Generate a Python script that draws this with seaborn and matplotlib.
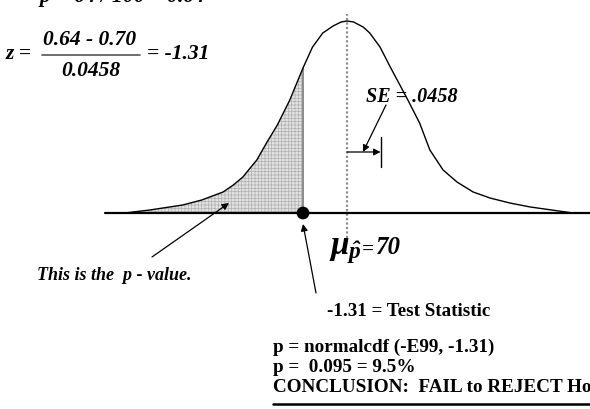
import matplotlib
matplotlib.use("Agg")
import matplotlib.pyplot as plt
import seaborn as sns
import pandas as pd

# Sample proportion test: H0 p = 0.70, sample 64 of 100
p_hat = 0.64
p0 = 0.70
se = 0.0458
z_stat = -1.31
p_value = 0.095

# Sketched sampling-distribution curve (p-hat, height above the axis)
curve_phat = [0.397, 0.431, 0.476, 0.502, 0.531, 0.545, 0.558, 0.568, 0.577,
              0.591, 0.605, 0.622, 0.640, 0.653, 0.667, 0.681, 0.692, 0.700,
              0.709, 0.722, 0.731, 0.745, 0.759, 0.783, 0.799, 0.813, 0.831,
              0.850, 0.872, 0.895, 0.922, 0.950, 1.008]
curve_height = [0, 3, 8, 13, 21, 28, 36, 45, 53,
                71, 88, 113, 145, 166, 180, 187, 191, 192,
                191, 186, 180, 166, 146, 113, 90, 63, 43,
                31, 21, 15, 10, 6, 0]

sns.set_theme(style="white")
plt.rcParams["font.family"] = ["Liberation Serif", "DejaVu Serif"]
plt.rcParams["mathtext.fontset"] = "custom"
plt.rcParams["mathtext.it"] = "Liberation Serif:bold:italic"
plt.rcParams["mathtext.rm"] = "Liberation Serif:bold:italic"
plt.rcParams["mathtext.bf"] = "Liberation Serif:bold:italic"
plt.rcParams["hatch.linewidth"] = 0.5

W, H = 590, 409
fig = plt.figure(figsize=(W / 100, H / 100), dpi=100)
ax = fig.add_axes([0, 0, 1, 1])
ax.set_axis_off()

# horizontal scale: p-hat per pixel, placing p0 and p_hat on the sketch
unit = (p0 - p_hat) / 44.0
ax.set_xlim(p0 - 347 * unit, p0 + 243 * unit)
ax.set_ylim(-196, 213)


def fp(x, y):
    """pixel position (from top-left) -> figure fraction"""
    return (x / W, 1 - y / H)


df = pd.DataFrame({"phat": curve_phat, "height": curve_height})

# shaded p-value tail
tail = df[df["phat"] <= p_hat]
ax.fill_between(tail["phat"], tail["height"], 0, facecolor="#e2e2e2",
                edgecolor="#b0b0b0", hatch="+++++", linewidth=0, zorder=1)
h_at = float(tail["height"].iloc[-1])
ax.plot([p_hat, p_hat], [0, h_at], color="#8c8c8c", lw=1.4, zorder=2)

# bell curve
sns.lineplot(data=df, x="phat", y="height", sort=False, estimator=None,
             color="black", lw=1.0, ax=ax, zorder=3)

# horizontal axis
ax.plot([p0 - 242 * unit, p0 + 250 * unit], [0, 0], color="black", lw=1.6,
        zorder=3)

# dotted centre line at p0
ax.plot([p0, p0], [-25, 199], color="#8f8f8f", lw=1.6, ls=(0, (1, 1)),
        zorder=2)

# observed statistic
sns.scatterplot(x=[p_hat], y=[0], s=85, color="black", edgecolor="none",
                ax=ax, zorder=5, legend=False)

arrow = dict(arrowstyle="-|>", color="black", lw=0.9, mutation_scale=10,
             shrinkA=0, shrinkB=0)

# SE bracket
ax.annotate("", xy=(p0 + se, 61), xytext=(p0, 61), arrowprops=arrow)
ax.plot([p0 + se, p0 + se], [46, 76], color="black", lw=1.0)

bi = dict(fontweight="bold", fontstyle="italic", color="black")
b = dict(fontweight="bold", color="black")

# formulas, top left
fig.text(*fp(38, 3), r"$\hat{p}$ = 64 / 100 = 0.64", fontsize=15.5,
         ha="left", va="baseline", **bi)
fig.text(*fp(6, 54), "z =", fontsize=15.5, ha="left", va="center", **bi)
fig.text(*fp(90, 40), f"{p_hat:.2f} - {p0:.2f}", fontsize=15.5,
         ha="center", va="center", **bi)
fig.lines.append(plt.Line2D([42 / W, 140 / W], [1 - 55 / H, 1 - 55 / H],
                            transform=fig.transFigure, color="#555555",
                            lw=1.2))
fig.text(*fp(91, 71), f"{se}", fontsize=15.5, ha="center", va="center",
         **bi)
fig.text(*fp(147, 54), f"= {z_stat}", fontsize=15.5, ha="left",
         va="center", **bi)

# SE label
fig.text(*fp(366, 97), f"SE = {str(se)[1:]}", fontsize=14.5, ha="left",
         va="center", **bi)
ax.annotate("", xy=fp(363, 152), xycoords="figure fraction",
            xytext=fp(386, 105), textcoords="figure fraction",
            arrowprops=arrow)

# mean label
fig.text(*fp(329, 250), r"$\mu_{\hat{p}}$", fontsize=24, ha="left",
         va="center", **bi)
fig.text(*fp(362, 250), "=", fontsize=15, ha="left", va="center", **bi)
fig.text(*fp(376, 248), f"{int(p0 * 100)}", fontsize=18, ha="left",
         va="center", **bi)

# p-value label
fig.text(*fp(37, 275), "This is the  p - value.", fontsize=13, ha="left",
         va="center", **bi)
ax.annotate("", xy=fp(229, 203), xycoords="figure fraction",
            xytext=fp(152, 257), textcoords="figure fraction",
            arrowprops=arrow)

# test statistic label
ax.annotate("", xy=fp(303, 224), xycoords="figure fraction",
            xytext=fp(316, 293), textcoords="figure fraction",
            arrowprops=arrow)
fig.text(*fp(327, 311), f"{z_stat} = Test Statistic", fontsize=13.7,
         ha="left", va="center", **b)

# conclusion block
fig.text(*fp(273, 347), f"p = normalcdf (-E99, {z_stat})", fontsize=13.8,
         ha="left", va="center", **b)
fig.text(*fp(273, 367), f"p =  {p_value} = {p_value * 100:.1f}%",
         fontsize=13.8, ha="left", va="center", **b)
fig.text(*fp(273, 387), "CONCLUSION:  FAIL to REJECT Ho", fontsize=13.8,
         ha="left", va="center", **b)
fig.lines.append(plt.Line2D([273 / W, 600 / W], [1 - 404 / H, 1 - 404 / H],
                            transform=fig.transFigure, color="black",
                            lw=1.8))

fig.savefig("out.png", dpi=100, facecolor="white")
